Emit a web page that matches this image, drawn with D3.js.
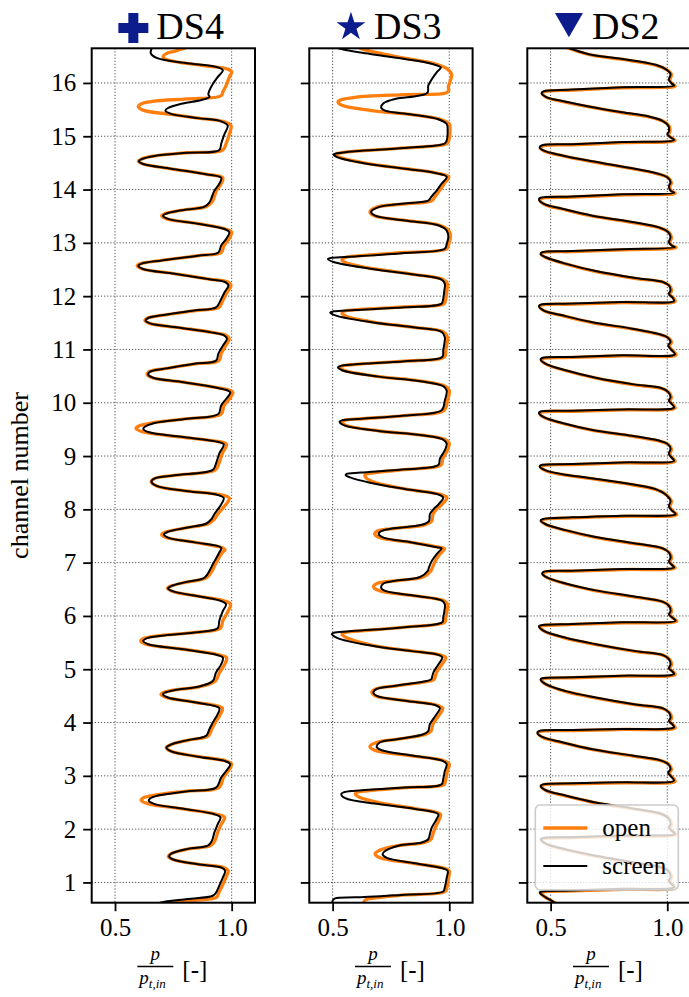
<!DOCTYPE html>
<html>
<head>
<meta charset="utf-8">
<script src="https://cdn.jsdelivr.net/npm/d3@7"></script>
<style>
  body { margin: 0; background: #fff; }
  svg { display: block; }
  text { font-family: "Liberation Serif", "Times New Roman", serif; fill: #000; }
</style>
</head>
<body>
<svg id="chart" width="689" height="997"></svg>
<script>
// ---- data: pressure ratio p / p_t,in along the channels, as [ratio, channel] ----
const channelTicks = d3.range(1, 17);
const ratioTicks = [0.5, 1.0];
const panelNames = ["DS4", "DS3", "DS2"];
const seriesNames = ["open", "screen"];

const ds4Screen = [[0.663,16.7],[0.653,16.56],[0.678,16.47],[0.81,16.37],[0.926,16.31],[0.962,16.24],[0.94,16.11],[0.915,15.95],[0.90,15.79],[0.905,15.74],[0.87,15.68],[0.784,15.61],[0.727,15.53],[0.716,15.48],[0.74,15.42],[0.855,15.34],[0.955,15.28],[0.983,15.2],
[0.969,15.04],[0.955,14.86],[0.947,14.74],[0.81,14.69],[0.67,14.63],[0.614,14.57],[0.602,14.53],[0.621,14.48],[0.741,14.39],[0.884,14.29],[0.955,14.22],
[0.947,14.11],[0.926,13.98],[0.915,13.86],[0.905,13.76],[0.884,13.68],[0.784,13.61],[0.72,13.55],[0.706,13.51],[0.727,13.45],[0.855,13.36],[0.969,13.26],[0.99,13.2],
[0.976,13.07],[0.955,12.95],[0.943,12.82],[0.855,12.76],[0.70,12.67],[0.614,12.61],[0.60,12.57],[0.62,12.51],[0.756,12.42],[0.898,12.32],[0.969,12.27],[0.986,12.2],
[0.969,12.07],[0.952,11.92],[0.933,11.79],[0.84,11.73],[0.70,11.64],[0.642,11.59],[0.631,11.54],[0.65,11.49],[0.77,11.41],[0.912,11.32],[0.969,11.26],[0.98,11.2],
[0.962,11.07],[0.943,10.92],[0.933,10.79],[0.84,10.73],[0.713,10.64],[0.649,10.58],[0.642,10.53],[0.663,10.47],[0.784,10.39],[0.926,10.29],[0.983,10.23],[0.994,10.19],
[0.976,10.07],[0.955,9.95],[0.943,9.79],[0.81,9.7],[0.67,9.62],[0.628,9.55],[0.621,9.51],[0.642,9.45],[0.784,9.36],[0.926,9.28],[0.966,9.22],
[0.947,9.05],[0.933,8.86],[0.919,8.74],[0.756,8.64],[0.67,8.58],[0.656,8.52],[0.678,8.44],[0.812,8.34],[0.94,8.27],[0.966,8.21],
[0.955,8.09],[0.926,7.91],[0.912,7.81],[0.89,7.73],[0.812,7.66],[0.727,7.58],[0.71,7.53],[0.727,7.47],[0.841,7.38],[0.955,7.28],
[0.947,7.19],[0.919,6.97],[0.909,6.88],[0.884,6.72],[0.798,6.63],[0.741,6.56],[0.727,6.52],[0.749,6.46],[0.869,6.36],[0.955,6.28],[0.976,6.22],
[0.962,6.09],[0.947,5.91],[0.94,5.77],[0.84,5.69],[0.70,5.63],[0.635,5.58],[0.621,5.53],[0.642,5.47],[0.784,5.38],[0.926,5.28],[0.962,5.22],
[0.955,5.09],[0.933,4.94],[0.919,4.78],[0.855,4.67],[0.756,4.61],[0.713,4.56],[0.706,4.53],[0.727,4.47],[0.841,4.38],[0.947,4.27],
[0.94,4.16],[0.919,4.0],[0.905,3.88],[0.89,3.75],[0.812,3.67],[0.741,3.59],[0.72,3.53],[0.741,3.46],[0.855,3.36],[0.969,3.28],[0.994,3.22],
[0.976,3.09],[0.955,2.97],[0.933,2.78],[0.812,2.71],[0.685,2.63],[0.649,2.57],[0.645,2.53],[0.67,2.47],[0.798,2.38],[0.926,2.28],[0.952,2.22],
[0.94,2.09],[0.926,1.94],[0.915,1.78],[0.898,1.69],[0.812,1.63],[0.741,1.54],[0.732,1.49],[0.749,1.43],[0.855,1.34],[0.955,1.28],[0.972,1.22],
[0.962,1.09],[0.947,0.94],[0.933,0.81],[0.919,0.75],[0.812,0.69],[0.713,0.64],[0.68,0.6]];

const ds4Open = [[0.83,16.7],[0.76,16.6],[0.72,16.55],[0.706,16.49],[0.727,16.43],[0.87,16.33],[0.983,16.26],[1.0,16.21],[0.99,16.11],[0.976,15.95],[0.962,15.83],[0.955,15.76],[0.81,15.7],[0.67,15.66],[0.614,15.61],[0.60,15.56],[0.62,15.49],[0.741,15.41],[0.855,15.34],[0.96,15.28],[0.997,15.2],
[0.99,15.04],[0.976,14.86],[0.962,14.74],[0.81,14.69],[0.67,14.63],[0.612,14.57],[0.60,14.53],[0.62,14.48],[0.741,14.39],[0.887,14.29],[0.962,14.22],
[0.955,14.11],[0.935,13.98],[0.925,13.86],[0.915,13.76],[0.89,13.68],[0.784,13.61],[0.715,13.55],[0.70,13.51],[0.722,13.45],[0.858,13.36],[0.975,13.26],[1.0,13.2],
[0.988,13.07],[0.967,12.95],[0.955,12.82],[0.86,12.76],[0.70,12.67],[0.61,12.61],[0.595,12.57],[0.617,12.51],[0.756,12.42],[0.902,12.32],[0.98,12.27],[0.997,12.2],
[0.98,12.07],[0.962,11.92],[0.945,11.79],[0.845,11.73],[0.70,11.64],[0.64,11.59],[0.628,11.54],[0.648,11.49],[0.772,11.41],[0.915,11.32],[0.978,11.26],[0.99,11.2],
[0.974,11.07],[0.955,10.92],[0.945,10.79],[0.845,10.73],[0.713,10.64],[0.645,10.58],[0.638,10.53],[0.66,10.47],[0.786,10.39],[0.93,10.29],[0.994,10.23],[1.005,10.19],
[0.99,10.07],[0.967,9.95],[0.955,9.79],[0.81,9.7],[0.655,9.62],[0.60,9.56],[0.59,9.52],[0.615,9.46],[0.775,9.36],[0.93,9.28],[0.978,9.22],
[0.96,9.05],[0.945,8.86],[0.93,8.74],[0.76,8.64],[0.67,8.58],[0.655,8.52],[0.678,8.44],[0.815,8.34],[0.955,8.27],[0.99,8.21],
[0.975,8.09],[0.94,7.91],[0.925,7.81],[0.9,7.73],[0.815,7.66],[0.72,7.58],[0.70,7.53],[0.72,7.47],[0.842,7.38],[0.96,7.28],[0.972,7.24],
[0.96,7.19],[0.93,6.97],[0.92,6.88],[0.893,6.72],[0.80,6.63],[0.74,6.56],[0.725,6.52],[0.747,6.46],[0.872,6.36],[0.97,6.28],[0.995,6.22],
[0.985,6.09],[0.962,5.91],[0.952,5.77],[0.845,5.69],[0.69,5.63],[0.625,5.58],[0.61,5.53],[0.632,5.47],[0.782,5.38],[0.935,5.28],[0.978,5.22],
[0.97,5.09],[0.948,4.94],[0.93,4.78],[0.86,4.67],[0.75,4.61],[0.705,4.56],[0.697,4.53],[0.72,4.47],[0.842,4.38],[0.96,4.27],
[0.952,4.16],[0.93,4.0],[0.915,3.88],[0.9,3.75],[0.815,3.67],[0.742,3.59],[0.72,3.53],[0.74,3.46],[0.858,3.36],[0.975,3.28],[1.0,3.22],
[0.985,3.09],[0.965,2.97],[0.945,2.78],[0.80,2.71],[0.66,2.63],[0.618,2.58],[0.612,2.54],[0.64,2.48],[0.79,2.38],[0.935,2.28],[0.97,2.22],
[0.955,2.09],[0.94,1.94],[0.928,1.78],[0.91,1.69],[0.815,1.63],[0.74,1.54],[0.728,1.49],[0.748,1.43],[0.858,1.34],[0.965,1.28],[0.985,1.22],
[0.975,1.09],[0.96,0.94],[0.945,0.81],[0.935,0.72],[0.85,0.67],[0.75,0.63],[0.7,0.6]];

const ds3Screen = [[0.50,16.72],[0.519,16.66],[0.668,16.54],[0.81,16.45],[0.924,16.36],[0.964,16.29],[0.946,16.2],[0.925,16.07],[0.91,15.95],[0.907,15.82],[0.868,15.76],[0.768,15.7],[0.718,15.62],[0.708,15.54],[0.725,15.48],[0.839,15.41],[0.953,15.32],[0.989,15.23],
[0.993,15.11],[0.989,14.92],[0.979,14.86],[0.81,14.78],[0.597,14.72],[0.519,14.68],[0.504,14.66],[0.519,14.61],[0.64,14.49],[0.81,14.39],[0.939,14.31],[0.989,14.24],
[0.967,14.11],[0.946,13.98],[0.922,13.86],[0.91,13.79],[0.81,13.74],[0.697,13.67],[0.665,13.58],[0.682,13.51],[0.81,13.42],[0.953,13.33],[0.989,13.23],
[0.996,13.11],[0.989,12.98],[0.981,12.89],[0.81,12.81],[0.597,12.745],[0.497,12.72],[0.48,12.695],[0.504,12.64],[0.668,12.51],[0.839,12.41],[0.967,12.31],[0.981,12.23],
[0.979,12.11],[0.974,11.95],[0.967,11.86],[0.81,11.79],[0.597,11.74],[0.504,11.715],[0.49,11.695],[0.511,11.64],[0.668,11.51],[0.853,11.41],[0.967,11.33],[0.981,11.23],
[0.979,11.11],[0.974,10.98],[0.97,10.86],[0.81,10.78],[0.597,10.72],[0.533,10.69],[0.523,10.665],[0.54,10.61],[0.697,10.49],[0.868,10.41],[0.974,10.31],[0.989,10.23],
[0.981,10.04],[0.967,9.86],[0.81,9.76],[0.625,9.7],[0.54,9.67],[0.53,9.645],[0.547,9.58],[0.697,9.47],[0.882,9.39],[0.974,9.31],[0.989,9.23],
[0.981,9.11],[0.96,8.95],[0.953,8.83],[0.81,8.75],[0.62,8.69],[0.56,8.665],[0.556,8.64],[0.575,8.6],[0.66,8.5],[0.81,8.38],[0.953,8.28],[0.974,8.22],
[0.953,8.09],[0.932,8.0],[0.917,7.91],[0.913,7.78],[0.882,7.71],[0.754,7.64],[0.708,7.59],[0.697,7.54],[0.718,7.47],[0.839,7.38],[0.946,7.29],[0.967,7.27],
[0.946,7.16],[0.925,7.03],[0.913,6.91],[0.907,6.84],[0.875,6.73],[0.768,6.66],[0.718,6.61],[0.708,6.53],[0.725,6.47],[0.853,6.38],[0.967,6.29],[0.981,6.22],
[0.979,6.09],[0.974,5.97],[0.97,5.88],[0.81,5.79],[0.597,5.72],[0.511,5.69],[0.497,5.665],[0.519,5.59],[0.668,5.44],[0.839,5.34],[0.953,5.27],[0.97,5.22],
[0.953,5.09],[0.932,4.94],[0.922,4.81],[0.903,4.78],[0.768,4.69],[0.689,4.63],[0.675,4.56],[0.689,4.5],[0.81,4.41],[0.939,4.33],[0.96,4.27],
[0.946,4.16],[0.917,3.97],[0.91,3.84],[0.889,3.78],[0.782,3.69],[0.704,3.63],[0.689,3.54],[0.711,3.48],[0.839,3.38],[0.967,3.29],[0.989,3.22],
[0.981,3.09],[0.974,2.94],[0.967,2.84],[0.81,2.78],[0.597,2.72],[0.547,2.69],[0.537,2.66],[0.554,2.58],[0.697,2.47],[0.853,2.38],[0.953,2.28],
[0.946,2.19],[0.925,2.03],[0.917,1.91],[0.91,1.81],[0.882,1.75],[0.782,1.69],[0.725,1.59],[0.714,1.53],[0.732,1.46],[0.853,1.36],[0.967,1.27],[0.993,1.22],
[0.989,1.09],[0.981,0.91],[0.974,0.83],[0.81,0.77],[0.597,0.72],[0.511,0.70],[0.50,0.66],[0.50,0.58]];

const ds3Open = [[0.60,16.72],[0.618,16.65],[0.70,16.56],[0.815,16.46],[0.93,16.37],[0.99,16.27],[1.01,16.16],[1.003,16.02],[0.996,15.92],[0.998,15.86],[0.985,15.81],[0.81,15.78],[0.597,15.73],[0.533,15.68],[0.523,15.645],[0.54,15.58],[0.668,15.48],[0.845,15.40],[0.958,15.32],[1.0,15.23],
[1.003,15.11],[0.998,14.92],[0.99,14.86],[0.81,14.78],[0.597,14.72],[0.525,14.68],[0.512,14.655],[0.527,14.61],[0.645,14.49],[0.812,14.39],[0.945,14.31],[0.998,14.24],
[0.978,14.11],[0.958,13.98],[0.938,13.86],[0.925,13.79],[0.81,13.73],[0.69,13.67],[0.66,13.58],[0.678,13.51],[0.81,13.42],[0.958,13.33],[0.998,13.23],
[1.005,13.11],[0.998,12.98],[0.99,12.89],[0.81,12.82],[0.62,12.76],[0.55,12.72],[0.54,12.68],[0.56,12.62],[0.68,12.51],[0.845,12.41],[0.975,12.31],[0.992,12.23],
[0.99,12.11],[0.985,11.95],[0.978,11.86],[0.81,11.8],[0.62,11.75],[0.55,11.72],[0.54,11.68],[0.56,11.62],[0.68,11.51],[0.858,11.41],[0.975,11.33],[0.993,11.23],
[0.99,11.11],[0.985,10.98],[0.98,10.86],[0.81,10.78],[0.6,10.72],[0.54,10.69],[0.53,10.665],[0.547,10.61],[0.7,10.49],[0.872,10.41],[0.982,10.31],[1.0,10.23],
[0.992,10.04],[0.978,9.86],[0.81,9.76],[0.63,9.7],[0.55,9.67],[0.54,9.645],[0.555,9.58],[0.7,9.47],[0.885,9.39],[0.982,9.31],[1.0,9.23],
[0.992,9.11],[0.972,8.95],[0.965,8.83],[0.82,8.75],[0.68,8.69],[0.64,8.65],[0.64,8.61],[0.67,8.52],[0.815,8.38],[0.962,8.28],[0.99,8.22],
[0.968,8.09],[0.945,8.0],[0.93,7.91],[0.925,7.78],[0.895,7.71],[0.76,7.64],[0.69,7.59],[0.68,7.54],[0.70,7.47],[0.835,7.38],[0.955,7.29],[0.98,7.26],
[0.96,7.16],[0.94,7.03],[0.928,6.91],[0.92,6.84],[0.888,6.73],[0.77,6.66],[0.69,6.61],[0.675,6.55],[0.695,6.48],[0.845,6.38],[0.975,6.29],[0.993,6.22],
[0.99,6.09],[0.985,5.97],[0.98,5.88],[0.81,5.79],[0.62,5.72],[0.55,5.685],[0.54,5.655],[0.56,5.59],[0.68,5.44],[0.845,5.34],[0.96,5.27],[0.985,5.22],
[0.968,5.09],[0.945,4.94],[0.935,4.81],[0.918,4.78],[0.775,4.69],[0.685,4.63],[0.668,4.57],[0.682,4.5],[0.81,4.41],[0.945,4.33],[0.972,4.27],
[0.96,4.16],[0.93,3.97],[0.922,3.84],[0.9,3.78],[0.78,3.69],[0.69,3.63],[0.66,3.55],[0.68,3.48],[0.83,3.38],[0.972,3.29],[1.0,3.22],
[0.992,3.09],[0.985,2.94],[0.978,2.84],[0.81,2.78],[0.65,2.72],[0.605,2.69],[0.597,2.66],[0.615,2.6],[0.72,2.48],[0.86,2.38],[0.962,2.28],
[0.958,2.19],[0.94,2.03],[0.93,1.91],[0.922,1.81],[0.895,1.75],[0.78,1.69],[0.70,1.6],[0.682,1.54],[0.70,1.47],[0.845,1.36],[0.975,1.27],[1.0,1.22],
[0.997,1.09],[0.99,0.91],[0.983,0.83],[0.81,0.765],[0.68,0.71],[0.64,0.67],[0.63,0.58]];

const ds2Screen = [[0.55,16.7],[0.664,16.54],[0.807,16.45],[0.95,16.34],[0.993,16.26],[1.014,16.17],[1.007,16.06],[1.019,15.99],[1.029,15.95],[0.807,15.92],[0.593,15.875],[0.471,15.845],[0.461,15.81],[0.479,15.74],[0.55,15.66],[0.664,15.56],[0.807,15.45],[0.921,15.37],[0.979,15.29],[1.004,15.2],
[1.007,15.09],[1.0,15.04],[1.014,14.98],[1.029,14.93],[0.807,14.89],[0.593,14.85],[0.464,14.83],[0.453,14.79],[0.471,14.73],[0.55,14.64],[0.679,14.53],[0.836,14.41],[0.95,14.31],[1.0,14.23],
[1.014,14.14],[1.007,14.06],[1.014,13.98],[1.029,13.94],[0.807,13.91],[0.593,13.87],[0.457,13.845],[0.45,13.82],[0.471,13.73],[0.55,13.64],[0.679,13.51],[0.85,13.39],[0.964,13.29],[1.004,13.2],
[1.014,13.11],[1.007,13.01],[1.019,12.95],[1.033,12.92],[0.807,12.88],[0.593,12.845],[0.464,12.825],[0.457,12.79],[0.479,12.73],[0.564,12.61],[0.693,12.47],[0.864,12.34],[0.979,12.27],[1.007,12.2],
[1.014,12.11],[1.007,12.04],[1.021,11.98],[1.029,11.91],[0.807,11.89],[0.593,11.86],[0.457,11.84],[0.45,11.81],[0.471,11.73],[0.55,11.64],[0.679,11.51],[0.85,11.39],[0.964,11.29],[1.0,11.23],
[1.014,11.14],[1.004,11.08],[1.014,11.01],[1.033,10.91],[0.807,10.89],[0.593,10.86],[0.464,10.84],[0.457,10.81],[0.479,10.73],[0.564,10.61],[0.693,10.47],[0.864,10.34],[0.971,10.28],[1.004,10.2],
[1.014,10.11],[1.007,10.04],[1.019,9.98],[1.029,9.91],[0.807,9.875],[0.593,9.85],[0.457,9.835],[0.45,9.81],[0.471,9.73],[0.55,9.62],[0.679,9.49],[0.85,9.38],[0.964,9.29],[1.0,9.23],
[1.014,9.14],[1.007,9.04],[1.019,8.97],[1.029,8.91],[0.807,8.88],[0.593,8.85],[0.464,8.835],[0.453,8.81],[0.479,8.73],[0.55,8.66],[0.664,8.59],[0.807,8.5],[0.95,8.38],[0.993,8.28],
[1.014,8.16],[1.007,8.06],[1.019,7.98],[1.036,7.91],[0.807,7.88],[0.593,7.85],[0.467,7.82],[0.457,7.79],[0.479,7.72],[0.564,7.61],[0.693,7.48],[0.864,7.36],[0.979,7.27],[1.007,7.19],
[1.014,7.09],[1.007,7.02],[1.019,6.96],[1.029,6.91],[0.807,6.88],[0.593,6.85],[0.471,6.83],[0.464,6.79],[0.486,6.72],[0.564,6.61],[0.693,6.48],[0.864,6.36],[0.979,6.27],[1.007,6.19],
[1.014,6.09],[1.007,6.03],[1.021,5.97],[1.036,5.91],[0.807,5.88],[0.593,5.85],[0.464,5.83],[0.45,5.81],[0.471,5.72],[0.564,5.59],[0.693,5.47],[0.864,5.34],[0.979,5.27],[1.007,5.19],
[1.014,5.09],[1.007,5.02],[1.019,4.97],[1.029,4.91],[0.807,4.88],[0.593,4.85],[0.464,4.83],[0.457,4.81],[0.479,4.72],[0.564,4.59],[0.693,4.47],[0.864,4.34],[0.979,4.27],[1.007,4.19],
[1.014,4.09],[1.007,4.03],[1.021,3.97],[1.029,3.91],[0.807,3.88],[0.593,3.86],[0.45,3.84],[0.443,3.81],[0.464,3.73],[0.55,3.63],[0.679,3.5],[0.85,3.38],[0.971,3.29],[1.004,3.22],
[1.014,3.13],[1.004,3.06],[1.014,3.0],[1.029,2.91],[0.807,2.88],[0.593,2.86],[0.467,2.84],[0.457,2.81],[0.479,2.73],[0.564,2.63],[0.693,2.5],[0.864,2.38],[0.979,2.28],[1.007,2.19],
[1.014,2.09],[1.007,2.03],[1.019,1.97],[1.033,1.91],[0.807,1.88],[0.593,1.85],[0.464,1.83],[0.457,1.81],[0.479,1.73],[0.564,1.62],[0.693,1.5],[0.864,1.37],[0.979,1.28],[1.007,1.2],
[1.014,1.1],[1.007,1.03],[1.019,0.97],[1.029,0.91],[0.807,0.88],[0.593,0.85],[0.464,0.83],[0.453,0.81],[0.479,0.72],[0.507,0.65],[0.53,0.58]];

const ds2Open = [[0.553,16.69],[0.667,16.53],[0.81,16.44],[0.953,16.33],[0.997,16.25],[1.018,16.16],[1.011,16.05],[1.023,15.98],[1.034,15.94],[0.81,15.91],[0.596,15.865],[0.474,15.835],[0.464,15.80],[0.482,15.73],[0.553,15.65],[0.667,15.55],[0.81,15.44],[0.924,15.36],[0.983,15.28],[1.008,15.19],
[1.011,15.08],[1.004,15.03],[1.018,14.97],[1.034,14.92],[0.81,14.88],[0.596,14.84],[0.467,14.82],[0.456,14.78],[0.474,14.72],[0.553,14.63],[0.682,14.52],[0.839,14.4],[0.953,14.3],[1.004,14.22],
[1.018,14.13],[1.011,14.05],[1.018,13.97],[1.034,13.93],[0.81,13.9],[0.596,13.86],[0.46,13.835],[0.453,13.81],[0.474,13.72],[0.553,13.63],[0.682,13.5],[0.853,13.38],[0.967,13.28],[1.008,13.19],
[1.018,13.1],[1.011,13.0],[1.023,12.94],[1.038,12.91],[0.81,12.87],[0.596,12.835],[0.467,12.815],[0.46,12.78],[0.482,12.72],[0.567,12.6],[0.696,12.46],[0.867,12.33],[0.983,12.26],[1.011,12.19],
[1.018,12.1],[1.011,12.03],[1.025,11.97],[1.034,11.9],[0.81,11.88],[0.596,11.85],[0.46,11.83],[0.453,11.8],[0.474,11.72],[0.553,11.63],[0.682,11.5],[0.853,11.38],[0.967,11.28],[1.004,11.22],
[1.018,11.13],[1.008,11.07],[1.018,11.0],[1.038,10.9],[0.81,10.88],[0.596,10.85],[0.467,10.83],[0.46,10.8],[0.482,10.72],[0.567,10.6],[0.696,10.46],[0.867,10.33],[0.975,10.27],[1.008,10.19],
[1.018,10.1],[1.011,10.03],[1.023,9.97],[1.034,9.9],[0.81,9.865],[0.596,9.84],[0.46,9.825],[0.453,9.8],[0.474,9.72],[0.553,9.61],[0.682,9.48],[0.853,9.37],[0.967,9.28],[1.004,9.22],
[1.018,9.13],[1.011,9.03],[1.023,8.96],[1.034,8.9],[0.81,8.87],[0.596,8.84],[0.467,8.825],[0.456,8.8],[0.482,8.72],[0.553,8.65],[0.667,8.58],[0.81,8.49],[0.953,8.37],[0.997,8.27],
[1.018,8.15],[1.011,8.05],[1.023,7.97],[1.041,7.9],[0.81,7.87],[0.596,7.84],[0.47,7.81],[0.46,7.78],[0.482,7.71],[0.567,7.6],[0.696,7.47],[0.867,7.35],[0.983,7.26],[1.011,7.18],
[1.018,7.08],[1.011,7.01],[1.023,6.95],[1.034,6.9],[0.81,6.87],[0.596,6.84],[0.474,6.82],[0.467,6.78],[0.489,6.71],[0.567,6.6],[0.696,6.47],[0.867,6.35],[0.983,6.26],[1.011,6.18],
[1.018,6.08],[1.011,6.02],[1.025,5.96],[1.041,5.9],[0.81,5.87],[0.596,5.84],[0.467,5.82],[0.453,5.8],[0.474,5.71],[0.567,5.58],[0.696,5.46],[0.867,5.33],[0.983,5.26],[1.011,5.18],
[1.018,5.08],[1.011,5.01],[1.023,4.96],[1.034,4.9],[0.81,4.87],[0.596,4.84],[0.467,4.82],[0.46,4.8],[0.482,4.71],[0.567,4.58],[0.696,4.46],[0.867,4.33],[0.983,4.26],[1.011,4.18],
[1.018,4.08],[1.011,4.02],[1.025,3.96],[1.034,3.9],[0.81,3.87],[0.596,3.85],[0.453,3.83],[0.446,3.8],[0.467,3.72],[0.553,3.62],[0.682,3.49],[0.853,3.37],[0.975,3.28],[1.008,3.21],
[1.018,3.12],[1.008,3.05],[1.018,2.99],[1.034,2.9],[0.81,2.87],[0.596,2.85],[0.47,2.83],[0.46,2.8],[0.482,2.72],[0.567,2.62],[0.696,2.49],[0.867,2.37],[0.983,2.27],[1.011,2.18],
[1.018,2.08],[1.011,2.02],[1.023,1.96],[1.038,1.9],[0.81,1.87],[0.596,1.84],[0.467,1.82],[0.46,1.8],[0.482,1.72],[0.567,1.61],[0.696,1.49],[0.867,1.36],[0.983,1.27],[1.011,1.19],
[1.018,1.09],[1.011,1.02],[1.023,0.96],[1.034,0.9],[0.81,0.87],[0.596,0.84],[0.467,0.82],[0.456,0.8],[0.482,0.71],[0.51,0.64],[0.535,0.58]];

// ---- layout ----
const svg = d3.select("#chart");
const serif = "Liberation Serif, Times New Roman, serif";
const plotTop = 48.3, plotBottom = 902.7, panelWidth = 163.3;
const panelLefts = [91.7, 309.3, 527.3];
const seriesColors = { open: "#ff7f0e", screen: "#000000" };
const seriesWidths = { open: 3.3, screen: 2.0 };
const titleColor = "#0c1c8c";
const tickFont = 25;

svg.append("rect").attr("width", 689).attr("height", 997).attr("fill", "#fff");

const y = d3.scaleLinear().domain([0.62, 16.65]).range([plotBottom, plotTop]);
const x = d3.scaleLinear().domain([0.4, 1.1]).range([0, panelWidth]);

const panels = [
  { name: panelNames[0], symbol: d3.symbolCross, size: 500, rotate: 0, dy: 28, series: { open: ds4Open, screen: ds4Screen } },
  { name: panelNames[1], symbol: d3.symbolStar, size: 260, rotate: 0, dy: 27, series: { open: ds3Open, screen: ds3Screen } },
  { name: panelNames[2], symbol: d3.symbolTriangle, size: 340, rotate: 180, dy: 21, series: { open: ds2Open, screen: ds2Screen } }
];

const line = d3.line()
  .x(d => x(d[0]))
  .y(d => y(d[1]))
  .curve(d3.curveCatmullRom.alpha(0.5));

panels.forEach((p, i) => {
  const g = svg.append("g").attr("transform", `translate(${panelLefts[i]},0)`);
  const clipId = `clip-${i}`;
  g.append("clipPath").attr("id", clipId)
    .append("rect").attr("x", 0).attr("y", plotTop).attr("width", panelWidth).attr("height", plotBottom - plotTop);

  // dotted grid
  const grid = g.append("g").attr("stroke", "#3a3a3a").attr("stroke-width", 0.9).attr("stroke-dasharray", "1.2,1.9");
  grid.selectAll("line.h").data(channelTicks).join("line").attr("class", "h")
    .attr("x1", 0).attr("x2", panelWidth).attr("y1", d => y(d)).attr("y2", d => y(d));
  grid.selectAll("line.v").data(ratioTicks).join("line").attr("class", "v")
    .attr("x1", d => x(d)).attr("x2", d => x(d)).attr("y1", plotTop).attr("y2", plotBottom);

  // curves
  const curves = g.append("g").attr("clip-path", `url(#${clipId})`);
  seriesNames.forEach(s => {
    curves.append("path")
      .datum(p.series[s])
      .attr("fill", "none")
      .attr("stroke", seriesColors[s])
      .attr("stroke-width", seriesWidths[s])
      .attr("stroke-linejoin", "round")
      .attr("d", line);
  });

  // axes
  const yAxis = d3.axisLeft(y).tickValues(channelTicks).tickSize(8.5).tickPadding(7).tickSizeOuter(0);
  if (i > 0) yAxis.tickFormat("");
  const ya = g.append("g").call(yAxis);
  const xa = g.append("g").attr("transform", `translate(0,${plotBottom})`)
    .call(d3.axisBottom(x).tickValues(ratioTicks).tickFormat(d3.format(".1f")).tickSize(8.5).tickPadding(7).tickSizeOuter(0));
  [ya, xa].forEach(a => {
    a.attr("font-family", serif);
    a.select(".domain").remove();
    a.selectAll(".tick line").attr("stroke", "#000").attr("stroke-width", 1.8);
    a.selectAll(".tick text").attr("font-size", tickFont).attr("font-family", serif).attr("fill", "#000");
  });

  // frame
  g.append("rect").attr("x", 0).attr("y", plotTop).attr("width", panelWidth).attr("height", plotBottom - plotTop)
    .attr("fill", "none").attr("stroke", "#000").attr("stroke-width", 2);

  // title: marker + name
  const cx = panelWidth / 2;
  g.append("path")
    .attr("d", d3.symbol().type(p.symbol).size(p.size)())
    .attr("transform", `translate(${cx - 40},${p.dy}) rotate(${p.rotate})`)
    .attr("fill", titleColor);
  g.append("text").attr("x", cx - 17).attr("y", 39).attr("font-size", 38).attr("font-family", serif).text(p.name);

  // x label: p / p_t,in [-]
  const fx = cx - 18;
  const lab = g.append("g").attr("font-family", serif);
  lab.append("text").attr("x", fx).attr("y", 960).attr("text-anchor", "middle")
    .attr("font-size", 19).attr("font-style", "italic").text("p");
  lab.append("line").attr("x1", fx - 18).attr("x2", fx + 18).attr("y1", 966.5).attr("y2", 966.5)
    .attr("stroke", "#000").attr("stroke-width", 1.3);
  const den = lab.append("text").attr("x", fx - 16).attr("y", 984).attr("font-size", 19).attr("font-style", "italic");
  den.append("tspan").text("p");
  den.append("tspan").attr("font-size", 13).attr("dy", 4).text("t,in");
  lab.append("text").attr("x", cx + 9).attr("y", 978).attr("font-size", 25).text("[-]");
});

// y label
svg.append("text")
  .attr("transform", `translate(28,${(plotTop + plotBottom) / 2}) rotate(-90)`)
  .attr("text-anchor", "middle").attr("font-size", 26).attr("font-family", serif).text("channel number");

// legend in the last panel
const lg = svg.append("g").attr("transform", `translate(${panelLefts[2]},0)`);
lg.append("rect").attr("x", 8).attr("y", 805).attr("width", 143).attr("height", 85).attr("rx", 5)
  .attr("fill", "#fff").attr("fill-opacity", 0.8).attr("stroke", "#cccccc").attr("stroke-width", 1.6);
seriesNames.forEach((s, k) => {
  const ly = 828 + k * 38;
  lg.append("line").attr("x1", 16).attr("x2", 60).attr("y1", ly).attr("y2", ly)
    .attr("stroke", seriesColors[s]).attr("stroke-width", seriesWidths[s]);
  lg.append("text").attr("x", 75).attr("y", ly + 8).attr("font-size", 25).attr("font-family", serif).text(s);
});
</script>
</body>
</html>
